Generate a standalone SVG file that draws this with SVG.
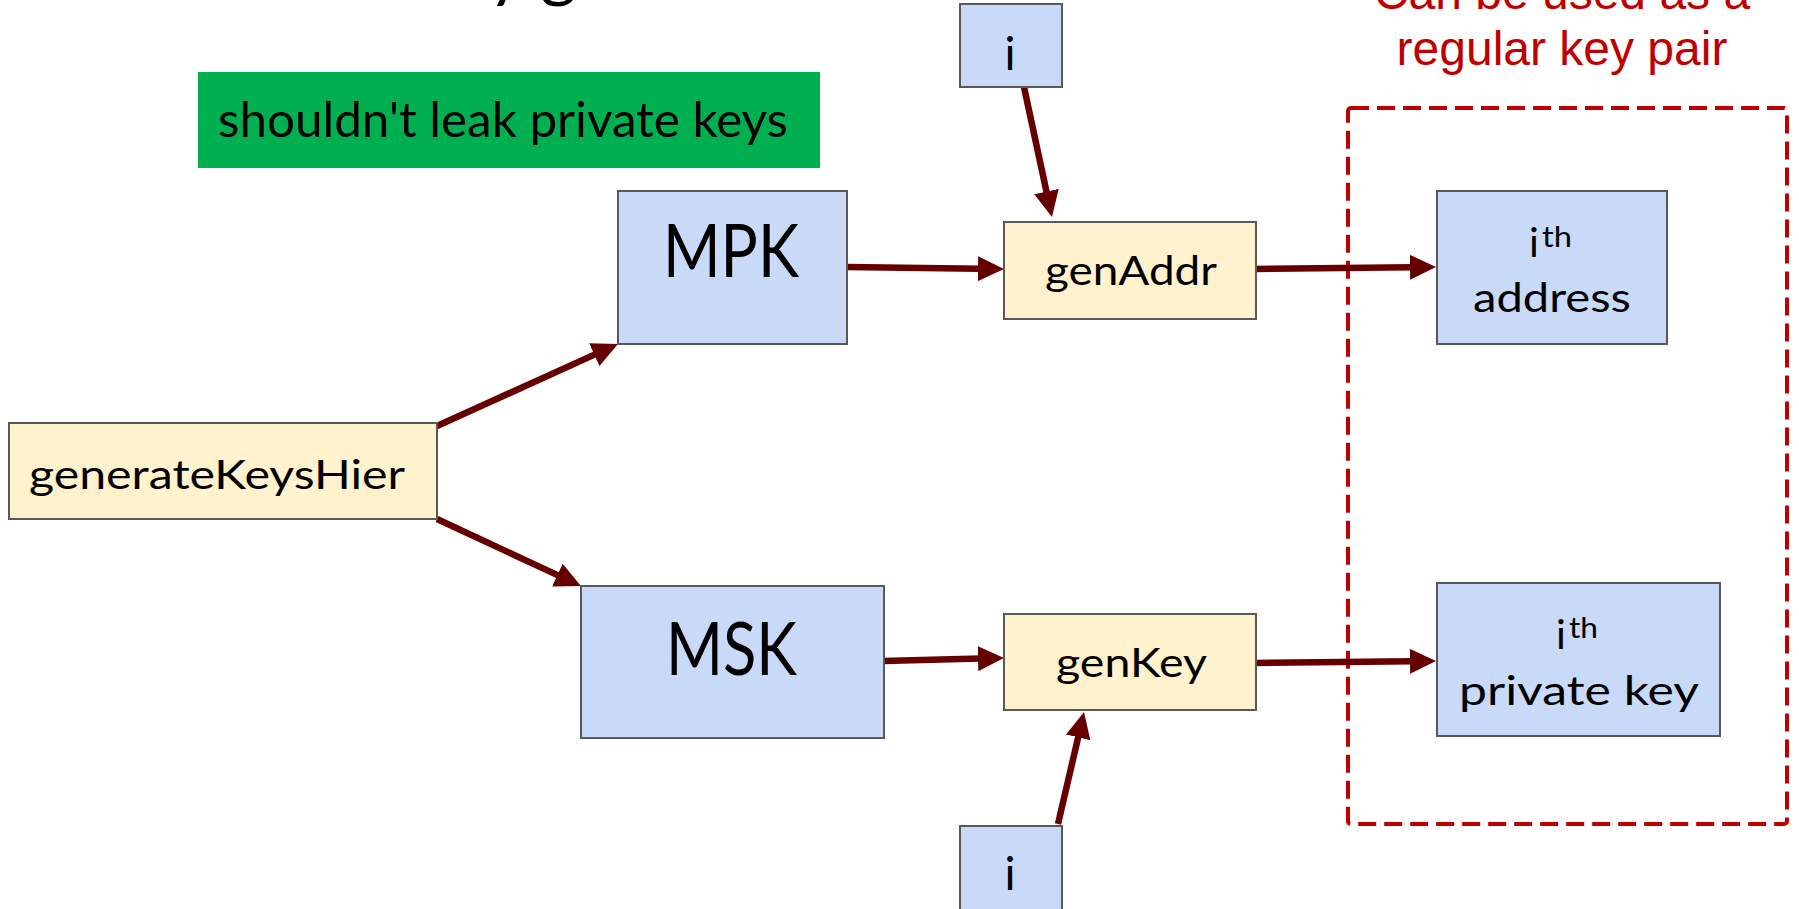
<svg xmlns="http://www.w3.org/2000/svg" width="1799" height="909" viewBox="0 0 1799 909">
  <style>
    .node { stroke: #595959; stroke-width: 2; }
    .blue { fill: #c9daf8; }
    .yellow { fill: #fff2cc; }
    .lbl { font-family: Lato, "Open Sans", sans-serif; fill: #000; }
    .edge { stroke: #660000; stroke-width: 6.5; fill: none; marker-end: url(#head); }
    .note { font-family: "Liberation Sans", Arial, sans-serif; font-size: 48px; fill: #c00000; text-anchor: middle; }
  </style>
  <defs>
    <marker id="head" markerUnits="userSpaceOnUse" markerWidth="26" markerHeight="25" refX="2" refY="12.5" orient="auto">
      <path d="M0,0 L26,12.5 L0,25 z" fill="#660000"/>
    </marker>
  </defs>

  <rect width="1799" height="909" fill="#ffffff"/>

  <!-- heading descenders peeking in at the top edge -->
  <text x="488" y="-6" class="lbl" font-size="70">y g</text>

  <!-- callout -->
  <g id="note-leak">
    <rect x="198" y="72" width="622" height="96" fill="#00b050"/>
    <text x="218" y="137" class="lbl" font-size="49" textLength="570" lengthAdjust="spacingAndGlyphs">shouldn't leak private keys</text>
  </g>

  <g id="note-keypair">
    <text x="1562" y="9" class="note">Can be used as a</text>
    <text x="1562" y="65" class="note">regular key pair</text>
    <rect x="1348" y="108" width="439" height="716" rx="3" fill="none" stroke="#c00000" stroke-width="4" stroke-dasharray="18 8"/>
  </g>

  <!-- connectors -->
  <g id="connectors">
    <line class="edge" x1="437" y1="426" x2="596.1" y2="353.9"/>
    <line class="edge" x1="437" y1="519" x2="559.2" y2="575.9"/>
    <line class="edge" x1="847" y1="267" x2="980" y2="268.7"/>
    <line class="edge" x1="1024" y1="87" x2="1046.9" y2="193.5"/>
    <line class="edge" x1="883" y1="661" x2="980" y2="658.6"/>
    <line class="edge" x1="1256" y1="663" x2="1412" y2="661.3"/>
    <line class="edge" x1="1256" y1="269" x2="1412" y2="267.3"/>
    <line class="edge" x1="1058" y1="824" x2="1078.6" y2="735.4"/>
  </g>

  <!-- nodes -->
  <g id="generateKeysHier">
    <rect class="node yellow" x="9" y="423" width="428" height="96"/>
    <text x="29" y="489" class="lbl" font-size="41" textLength="376" lengthAdjust="spacingAndGlyphs">generateKeysHier</text>
  </g>

  <g id="MPK">
    <rect class="node blue" x="618" y="191" width="229" height="153"/>
    <text x="663" y="277" class="lbl" font-size="74" textLength="136" lengthAdjust="spacingAndGlyphs">MPK</text>
  </g>

  <g id="MSK">
    <rect class="node blue" x="581" y="586" width="303" height="152"/>
    <text x="666" y="675" class="lbl" font-size="74" textLength="131" lengthAdjust="spacingAndGlyphs">MSK</text>
  </g>

  <g id="i-top">
    <rect class="node blue" x="960" y="4" width="102" height="83"/>
    <text x="1010" y="70" class="lbl" font-size="46" text-anchor="middle">i</text>
  </g>

  <g id="genAddr">
    <rect class="node yellow" x="1004" y="222" width="252" height="97"/>
    <text x="1045" y="285" class="lbl" font-size="41" textLength="172" lengthAdjust="spacingAndGlyphs">genAddr</text>
  </g>

  <g id="genKey">
    <rect class="node yellow" x="1004" y="614" width="252" height="96"/>
    <text x="1056" y="677" class="lbl" font-size="41" textLength="151" lengthAdjust="spacingAndGlyphs">genKey</text>
  </g>

  <g id="i-bottom">
    <rect class="node blue" x="960" y="826" width="102" height="100"/>
    <text x="1010" y="890" class="lbl" font-size="46" text-anchor="middle">i</text>
  </g>

  <g id="address">
    <rect class="node blue" x="1437" y="191" width="230" height="153"/>
    <text x="1529" y="257" class="lbl" font-size="41">i</text>
    <text x="1542" y="247" class="lbl" font-size="29" textLength="30" lengthAdjust="spacingAndGlyphs">th</text>
    <text x="1473" y="312" class="lbl" font-size="41" textLength="158" lengthAdjust="spacingAndGlyphs">address</text>
  </g>

  <g id="private-key">
    <rect class="node blue" x="1437" y="583" width="283" height="153"/>
    <text x="1556" y="649" class="lbl" font-size="41">i</text>
    <text x="1569" y="638" class="lbl" font-size="29" textLength="29" lengthAdjust="spacingAndGlyphs">th</text>
    <text x="1459" y="705" class="lbl" font-size="41" textLength="240" lengthAdjust="spacingAndGlyphs">private key</text>
  </g>
</svg>
